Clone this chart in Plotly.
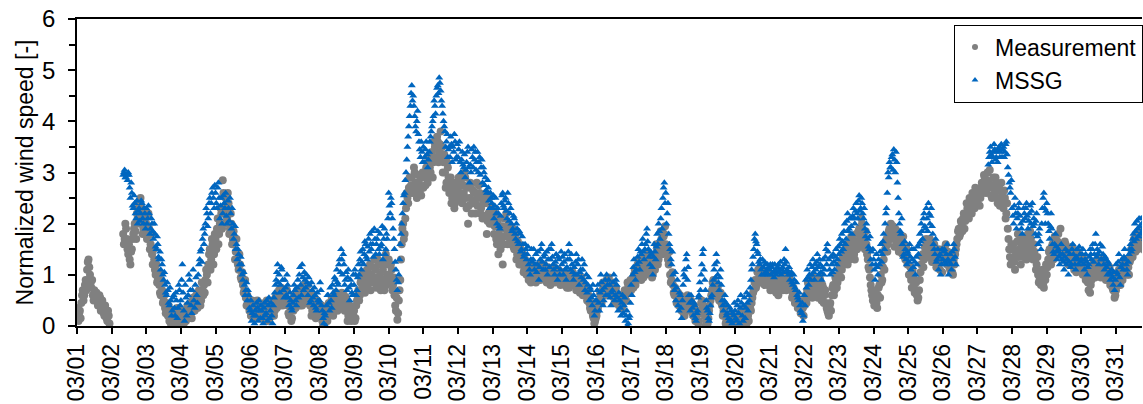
import pandas as pd
import plotly.graph_objects as go

# Normalized wind speed in March, sampled every 30 minutes.
# Each row is one day: *_HOUR holds the hh:00 samples, *_HALF the hh:30 samples.
# None marks samples without data.
N = None

MEAS_HOUR_01_10 = [
    [0.2, 0.1, 0.3, 0.45, 0.7, 0.6, 0.9, 1.1, 1.3, 1.0, 0.75, 0.6, 0.7, 0.5, 0.6, 0.45, 0.55, 0.35, 0.4, 0.2, 0.3, 0.1, 0.2, N],
    [N, N, N, N, N, N, N, N, 1.8, 1.7, 1.9, 1.5, 1.6, 1.2, 1.5, 1.8, 2.0, 1.7, 2.1, 2.4, 2.5, 2.2, 1.9, 2.1],
    [2.0, 1.8, 1.9, 1.6, 1.4, 1.5, 1.1, 1.2, 0.9, 0.8, 0.6, 0.7, 0.5, 0.35, 0.45, 0.2, 0.1, 0.05, 0.15, 0.05, 0.2, 0.1, 0.3, 0.15],
    [0.1, 0.2, 0.05, 0.3, 0.15, 0.35, 0.25, 0.4, 0.3, 0.5, 0.4, 0.55, 0.45, 0.6, 0.5, 0.7, 0.8, 0.9, 1.0, 1.2, 1.5, 1.3, 1.6, 1.4],
    [1.7, 1.9, 1.6, 2.0, 2.2, 2.85, 2.3, 2.5, 2.1, 2.4, 1.9, 2.0, 1.7, 1.6, 1.45, 1.3, 1.1, 1.2, 0.9, 0.8, 0.7, 0.55, 0.6, 0.45],
    [0.4, 0.3, 0.45, 0.2, 0.35, 0.5, 0.25, 0.4, 0.3, 0.15, 0.45, 0.3, 0.1, 0.35, 0.2, 0.4, 0.5, 0.3, 0.6, 0.45, 0.7, 0.55, 0.65, 0.5],
    [0.6, 0.5, 0.4, 0.2, 0.35, 0.15, 0.3, 0.5, 0.45, 0.6, 0.7, 0.55, 0.4, 0.6, 0.7, 0.5, 0.8, 0.65, 0.55, 0.3, 0.5, 0.45, 0.25, 0.4],
    [0.35, 0.2, 0.1, 0.05, 0.15, 0.3, 0.2, 0.4, 0.35, 0.45, 0.3, 0.5, 0.6, 0.4, 0.55, 0.5, 0.35, 0.6, 0.45, 0.3, 0.2, 0.4, 0.1, 0.25],
    [0.3, 0.15, 0.5, 0.7, 0.6, 0.9, 0.8, 1.0, 0.75, 1.1, 0.9, 1.2, 1.0, 0.85, 1.3, 1.1, 0.9, 1.2, 1.0, 0.8, 1.1, 0.7, 1.4, 1.0],
    [1.3, 0.9, 1.1, 0.8, 0.6, 0.3, 0.12, 0.5, 0.9, 1.6, 2.0, 1.8, 2.3, 2.5, 2.7, 2.6, 2.9, 2.7, 3.0, 2.75, 2.6, 2.8, 2.9, 2.7],
]
MEAS_HALF_01_10 = [
    [0.35, 0.25, 0.15, 0.6, 0.5, 0.8, 0.7, 1.25, 1.15, 0.85, 0.9, 0.5, 0.55, 0.65, 0.4, 0.6, 0.3, 0.5, 0.25, 0.4, 0.15, 0.3, 0.05, N],
    [N, N, N, N, N, N, N, N, 1.6, 2.0, 1.7, 1.4, 1.3, 1.45, 1.7, 1.9, 1.85, 2.2, 2.3, 2.0, 2.3, 1.8, 2.2, 1.95],
    [1.7, 2.2, 1.5, 1.8, 1.2, 1.3, 1.0, 0.85, 1.05, 0.65, 0.9, 0.45, 0.6, 0.25, 0.3, 0.4, 0.2, 0.3, 0.0, 0.25, 0.05, 0.35, 0.1, 0.05],
    [0.3, 0.0, 0.25, 0.1, 0.4, 0.2, 0.45, 0.15, 0.55, 0.3, 0.6, 0.35, 0.7, 0.4, 0.85, 0.6, 0.65, 1.1, 0.85, 1.4, 1.1, 1.7, 1.2, 1.8],
    [1.5, 2.1, 1.8, 2.3, 1.9, 2.6, 2.0, 2.2, 2.6, 1.8, 2.2, 1.6, 1.85, 1.3, 1.7, 1.2, 1.4, 0.95, 1.05, 0.65, 0.9, 0.4, 0.5, 0.3],
    [0.2, 0.5, 0.15, 0.4, 0.25, 0.3, 0.45, 0.2, 0.4, 0.35, 0.2, 0.5, 0.3, 0.15, 0.45, 0.3, 0.2, 0.55, 0.35, 0.65, 0.4, 0.75, 0.4, 0.7],
    [0.45, 0.7, 0.25, 0.45, 0.1, 0.4, 0.6, 0.35, 0.7, 0.5, 0.4, 0.75, 0.5, 0.8, 0.45, 0.65, 0.55, 0.4, 0.2, 0.6, 0.35, 0.15, 0.5, 0.3],
    [0.25, 0.4, 0.0, 0.2, 0.3, 0.1, 0.45, 0.25, 0.55, 0.2, 0.45, 0.65, 0.3, 0.5, 0.4, 0.65, 0.45, 0.3, 0.55, 0.1, 0.35, 0.15, 0.3, 0.2],
    [0.1, 0.4, 0.6, 0.5, 0.85, 0.7, 1.05, 0.65, 0.95, 0.8, 1.15, 0.7, 0.9, 1.15, 0.95, 0.75, 1.3, 0.85, 0.7, 1.2, 0.9, 1.25, 0.8, 1.2],
    [1.0, 1.2, 0.7, 0.95, 0.4, 0.55, 0.25, 0.7, 1.3, 1.9, 1.7, 2.1, 2.6, 2.4, 2.9, 2.75, 2.6, 3.1, 2.8, 2.5, 2.95, 2.65, 2.55, 3.0],
]

MEAS_HOUR_11_20 = [
    [2.7, 2.9, 3.1, 2.8, 3.3, 3.0, 3.4, 3.2, 3.5, 3.3, 3.6, 3.4, 3.8, 3.5, 3.2, 3.0, 2.8, 3.1, 2.6, 2.9, 2.5, 2.7, 2.4, 2.8],
    [2.7, 2.5, 2.8, 2.4, 2.6, 2.9, 2.3, 2.0, 2.5, 2.7, 2.4, 2.6, 2.2, 2.8, 2.5, 2.6, 2.3, 2.1, 2.5, 2.4, 1.8, 2.2, 2.0, 2.3],
    [2.0, 1.8, 2.2, 1.6, 1.4, 1.9, 1.7, 1.2, 2.1, 1.9, 1.8, 2.0, 1.7, 1.6, 1.9, 1.5, 1.7, 1.4, 1.6, 1.3, 1.2, 1.4, 1.1, 1.25],
    [1.1, 0.9, 1.0, 1.2, 0.95, 1.05, 0.85, 1.0, 1.1, 0.9, 1.15, 0.95, 1.0, 1.05, 0.9, 1.1, 0.8, 1.0, 0.95, 0.85, 1.1, 0.9, 1.0, 0.8],
    [0.9, 1.0, 0.8, 0.95, 0.85, 0.75, 1.0, 0.9, 0.8, 0.95, 0.7, 0.85, 0.9, 0.75, 0.8, 0.7, 0.6, 0.65, 0.5, 0.45, 0.3, 0.35, 0.15, 0.1],
    [0.2, 0.35, 0.5, 0.6, 0.7, 0.8, 0.65, 0.9, 0.75, 0.6, 0.8, 0.7, 0.55, 0.65, 0.5, 0.6, 0.45, 0.55, 0.4, 0.5, 0.6, 0.7, 0.8, 0.75],
    [0.7, 0.9, 1.0, 0.8, 1.1, 1.3, 1.2, 0.9, 1.1, 1.25, 1.0, 1.2, 1.4, 1.1, 1.3, 1.0, 1.2, 1.4, 1.5, 1.3, 1.6, 1.7, 1.5, 1.8],
    [1.6, 1.4, 1.2, 1.0, 0.9, 0.8, 0.6, 0.7, 0.5, 0.4, 0.6, 0.3, 0.5, 0.2, 0.4, 0.6, 0.5, 0.3, 0.45, 0.2, 0.35, 0.15, 0.3, 0.1],
    [0.3, 0.5, 0.4, 0.2, 0.1, 0.05, 0.3, 0.5, 0.7, 0.9, 0.8, 0.6, 0.75, 0.5, 0.65, 0.4, 0.3, 0.2, 0.1, 0.05, 0.15, 0.0, 0.1, 0.05],
    [0.1, 0.0, 0.2, 0.05, 0.15, 0.3, 0.1, 0.25, 0.05, 0.2, 0.4, 0.3, 0.55, 0.7, 0.9, 0.8, 1.1, 0.95, 1.0, 0.85, 1.05, 0.9, 1.0, 0.8],
]
MEAS_HALF_11_20 = [
    [3.0, 2.75, 2.9, 3.2, 3.1, 3.35, 2.9, 3.6, 3.25, 3.7, 3.2, 3.55, 3.3, 3.0, 3.35, 2.7, 3.2, 2.9, 2.7, 2.4, 2.8, 2.3, 2.6, 2.5],
    [2.9, 2.6, 2.45, 2.75, 3.0, 2.5, 2.7, 2.35, 2.8, 2.2, 2.65, 2.45, 2.6, 2.35, 2.75, 2.2, 2.5, 2.4, 2.15, 2.6, 2.05, 2.5, 2.25, 2.1],
    [2.3, 1.95, 1.7, 2.05, 1.8, 1.5, 1.95, 1.6, 1.75, 2.2, 1.6, 1.85, 1.95, 1.8, 1.55, 1.8, 1.3, 1.65, 1.2, 1.5, 1.35, 1.05, 1.3, 1.0],
    [1.25, 1.05, 0.85, 1.1, 1.15, 0.9, 1.1, 0.9, 1.2, 1.05, 1.0, 1.2, 0.9, 0.85, 1.15, 0.95, 1.05, 0.9, 1.15, 1.0, 0.95, 1.1, 0.85, 1.05],
    [1.05, 0.85, 0.95, 0.75, 1.0, 0.9, 0.8, 1.05, 0.95, 0.8, 0.9, 0.75, 0.65, 0.95, 0.6, 0.8, 0.7, 0.5, 0.6, 0.35, 0.45, 0.2, 0.05, 0.15],
    [0.3, 0.45, 0.65, 0.45, 0.85, 0.6, 0.8, 0.7, 0.95, 0.7, 0.6, 0.85, 0.45, 0.75, 0.6, 0.4, 0.6, 0.35, 0.55, 0.7, 0.5, 0.85, 0.65, 0.9],
    [0.85, 0.75, 1.1, 0.95, 1.2, 1.0, 1.05, 1.3, 0.95, 1.15, 1.35, 1.05, 1.25, 1.35, 0.95, 1.3, 1.1, 1.6, 1.2, 1.45, 1.85, 1.4, 1.75, 1.95],
    [1.5, 1.3, 1.45, 0.85, 1.05, 0.65, 0.75, 0.45, 0.65, 0.55, 0.35, 0.45, 0.25, 0.35, 0.55, 0.45, 0.35, 0.5, 0.25, 0.4, 0.1, 0.25, 0.05, 0.25],
    [0.45, 0.35, 0.25, 0.0, 0.2, 0.15, 0.4, 0.6, 0.85, 0.65, 0.7, 0.8, 0.55, 0.6, 0.45, 0.2, 0.35, 0.05, 0.2, 0.1, 0.05, 0.2, 0.0, 0.15],
    [0.05, 0.15, 0.1, 0.25, 0.0, 0.2, 0.05, 0.15, 0.3, 0.1, 0.35, 0.45, 0.65, 0.85, 0.75, 1.05, 0.85, 1.1, 0.9, 1.0, 0.8, 0.95, 0.85, 0.95],
]

MEAS_HOUR_21_31 = [
    [0.9, 0.8, 0.95, 0.7, 0.85, 0.75, 0.6, 0.8, 0.9, 0.7, 0.85, 0.95, 0.8, 0.75, 0.9, 0.7, 0.6, 0.65, 0.5, 0.55, 0.4, 0.45, 0.3, 0.35],
    [0.4, 0.6, 0.7, 0.8, 0.65, 0.9, 0.75, 0.85, 0.6, 0.8, 0.7, 0.9, 0.5, 0.75, 0.6, 0.45, 0.3, 0.2, 0.45, 0.6, 0.8, 0.7, 0.9, 0.85],
    [1.0, 1.2, 1.1, 1.3, 1.5, 1.4, 1.2, 1.6, 1.4, 1.7, 1.5, 1.3, 1.8, 1.6, 1.9, 1.7, 2.0, 1.8, 1.5, 1.6, 1.3, 1.1, 0.8, 0.6],
    [0.7, 0.5, 0.45, 0.6, 0.8, 1.0, 0.9, 1.3, 1.5, 1.7, 1.6, 1.9, 2.0, 1.8, 1.7, 1.9, 1.6, 1.8, 1.5, 1.7, 1.4, 1.6, 1.3, 1.5],
    [1.2, 1.0, 0.9, 1.1, 0.8, 0.7, 0.6, 0.55, 0.9, 1.2, 1.4, 1.3, 1.5, 1.6, 1.4, 1.7, 1.5, 1.3, 1.6, 1.4, 1.2, 1.5, 1.1, 1.3],
    [1.5, 1.3, 1.6, 1.2, 1.4, 1.1, 1.3, 1.0, 1.2, 1.5, 1.7, 1.9, 1.8, 2.0, 2.1, 1.9, 2.2, 2.3, 2.1, 2.4, 2.2, 2.5, 2.3, 2.6],
    [2.4, 2.6, 2.5, 2.8, 2.7, 2.9, 2.6, 3.0, 2.8, 2.7, 2.5, 2.9, 2.6, 2.8, 2.4, 2.7, 2.5, 2.6, 2.3, 2.5, 2.2, 1.9, 1.5, 1.2],
    [1.3, 1.6, 1.1, 1.4, 1.8, 1.5, 1.2, 1.7, 1.4, 1.6, 1.3, 1.8, 1.5, 1.7, 1.4, 1.6, 1.3, 1.2, 1.0, 0.9, 0.8, 1.1, 0.75, 0.9],
    [1.0, 1.3, 1.5, 1.2, 1.6, 1.4, 1.7, 1.5, 1.8, 1.6, 1.4, 1.5, 1.3, 1.6, 1.4, 1.2, 1.5, 1.3, 1.4, 1.1, 1.3, 1.2, 1.4, 1.1],
    [1.2, 1.0, 1.3, 0.9, 1.1, 0.7, 0.65, 0.9, 1.1, 1.2, 1.0, 1.3, 1.1, 1.2, 1.0, 1.3, 1.1, 0.9, 1.2, 1.0, 0.8, 1.0, 0.7, 0.55],
    [0.7, 0.9, 1.1, 0.8, 1.0, 1.2, 1.1, 1.3, 1.2, 1.0, 1.3, 1.4, 1.5, 1.6, 1.7, 1.5, 1.8, 1.6, 1.7, 1.5, 1.6, 1.4, 1.5, 1.3],
]
MEAS_HALF_21_31 = [
    [0.7, 1.0, 0.85, 0.8, 0.65, 0.9, 0.7, 0.95, 0.75, 0.9, 1.0, 0.7, 0.85, 0.95, 0.8, 0.55, 0.75, 0.45, 0.65, 0.35, 0.5, 0.25, 0.45, 0.2],
    [0.5, 0.45, 0.85, 0.6, 0.75, 0.55, 0.95, 0.65, 0.85, 0.55, 0.95, 0.65, 0.8, 0.45, 0.7, 0.35, 0.25, 0.4, 0.3, 0.75, 0.6, 0.95, 0.75, 1.0],
    [1.15, 0.95, 1.35, 1.2, 1.25, 1.6, 1.45, 1.3, 1.75, 1.55, 1.4, 1.65, 1.5, 1.85, 1.55, 2.1, 1.65, 1.7, 1.85, 1.4, 1.15, 0.95, 0.7, 0.5],
    [0.4, 0.65, 0.35, 0.75, 0.55, 0.85, 1.15, 1.1, 1.6, 1.45, 1.85, 1.7, 1.75, 1.95, 1.55, 1.75, 1.85, 1.45, 1.65, 1.55, 1.75, 1.35, 1.55, 1.2],
    [1.0, 1.15, 0.75, 0.95, 0.65, 0.85, 0.5, 0.7, 1.05, 1.35, 1.15, 1.55, 1.7, 1.35, 1.6, 1.45, 1.25, 1.5, 1.3, 1.15, 1.4, 1.25, 1.45, 1.05],
    [1.35, 1.5, 1.25, 1.45, 1.15, 1.35, 1.05, 1.3, 1.4, 1.6, 1.85, 1.75, 2.05, 1.85, 2.2, 2.05, 2.4, 2.15, 2.5, 2.3, 2.6, 2.4, 2.7, 2.45],
    [2.55, 2.35, 2.7, 2.6, 2.95, 2.75, 2.85, 2.7, 3.05, 2.55, 2.75, 2.7, 2.9, 2.5, 2.65, 2.35, 2.8, 2.4, 2.65, 2.1, 2.4, 1.7, 1.35, 1.6],
    [1.5, 1.25, 1.45, 1.65, 1.35, 1.7, 1.55, 1.35, 1.75, 1.45, 1.65, 1.4, 1.85, 1.55, 1.3, 1.45, 1.1, 1.35, 0.85, 1.05, 0.95, 0.8, 1.0, 1.2],
    [1.15, 1.45, 1.35, 1.55, 1.3, 1.75, 1.45, 1.65, 1.5, 1.9, 1.55, 1.35, 1.65, 1.45, 1.25, 1.4, 1.2, 1.55, 1.25, 1.35, 1.05, 1.45, 1.2, 1.3],
    [1.05, 1.25, 1.1, 1.15, 0.85, 0.95, 0.8, 1.05, 1.25, 0.95, 1.15, 1.05, 1.25, 0.95, 1.15, 1.05, 1.25, 1.1, 0.95, 1.15, 0.9, 0.75, 0.85, 0.6],
    [0.8, 1.0, 0.95, 1.15, 0.9, 1.05, 1.3, 1.0, 1.15, 1.25, 1.5, 1.35, 1.7, 1.45, 1.6, 1.75, 1.55, 1.85, 1.6, 1.75, 1.45, 1.65, 1.4, 1.55],
]

MSSG_HOUR_01_10 = [
    [N] * 24,
    [N, N, N, N, N, N, N, N, 2.95, 3.05, 2.9, 2.85, 2.95, 2.5, 2.6, 2.3, 2.4, 2.1, 2.0, 2.3, 2.2, 2.4, 2.0, 2.2],
    [2.3, 2.1, 2.2, 1.9, 2.0, 1.7, 1.8, 1.5, 1.6, 1.3, 1.1, 1.2, 0.9, 0.8, 0.6, 0.7, 0.4, 0.5, 0.3, 0.6, 0.2, 0.5, 0.35, 0.7],
    [0.5, 1.2, 0.3, 0.8, 0.2, 0.6, 0.9, 0.4, 0.7, 0.5, 0.8, 0.6, 1.0, 1.3, 1.5, 1.7, 1.6, 2.0, 2.2, 2.1, 2.5, 2.4, 2.7, 2.3],
    [2.6, 2.3, 2.8, 2.1, 2.5, 2.2, 2.4, 2.6, 2.0, 2.3, 2.5, 1.9, 2.0, 1.8, 1.5, 1.3, 1.4, 1.1, 1.2, 0.9, 0.8, 0.7, 0.5, 0.6],
    [0.3, 0.1, 0.4, 0.05, 0.2, 0.35, 0.5, 0.15, 0.3, 0.05, 0.45, 0.25, 0.1, 0.55, 0.3, 0.2, 0.4, 0.65, 0.9, 1.2, 1.0, 0.8, 1.1, 0.7],
    [0.9, 0.6, 0.8, 0.4, 0.5, 0.3, 0.6, 0.7, 0.4, 0.9, 1.0, 0.8, 1.2, 0.7, 0.9, 1.0, 0.6, 0.8, 0.5, 0.7, 0.4, 0.6, 0.3, 0.5],
    [0.5, 0.7, 0.3, 0.05, 0.2, 0.4, 0.6, 0.3, 0.5, 0.8, 0.6, 0.9, 1.1, 0.8, 1.3, 1.5, 1.0, 1.2, 0.9, 0.7, 1.1, 0.5, 0.8, 0.6],
    [0.8, 1.0, 0.7, 1.2, 1.3, 1.1, 1.5, 1.4, 1.6, 1.3, 1.7, 1.8, 1.5, 1.6, 1.9, 1.4, 1.7, 1.5, 1.8, 1.6, 1.3, 1.9, 1.5, 1.7],
    [2.6, 2.2, 2.4, 1.9, 1.5, 1.1, 0.7, 1.0, 1.6, 2.0, 2.4, 2.6, 3.0, 3.5, 3.9, 4.3, 4.7, 4.5, 4.1, 3.8, 4.2, 3.6, 3.3, 3.4],
]
MSSG_HALF_01_10 = [
    [N] * 24,
    [N, N, N, N, N, N, N, N, 3.0, 2.9, 2.95, 3.0, 2.7, 2.8, 2.35, 2.55, 2.2, 2.45, 2.25, 2.05, 2.45, 2.1, 2.3, 1.9],
    [2.0, 2.35, 1.8, 2.1, 1.85, 2.0, 1.55, 1.75, 1.35, 1.45, 1.3, 1.0, 1.05, 0.65, 0.85, 0.45, 0.75, 0.2, 0.55, 0.35, 0.65, 0.15, 0.8, 0.4],
    [0.9, 0.65, 0.1, 0.55, 0.45, 1.0, 0.7, 0.25, 1.1, 0.35, 0.95, 0.45, 1.2, 1.45, 1.25, 1.9, 1.8, 2.3, 1.95, 2.4, 2.2, 2.6, 2.5, 2.75],
    [2.4, 2.7, 2.5, 2.35, 2.0, 2.55, 2.3, 2.15, 2.45, 2.05, 2.2, 2.3, 1.7, 1.95, 1.6, 1.5, 1.2, 1.35, 1.0, 1.05, 0.6, 0.85, 0.7, 0.35],
    [0.5, 0.25, 0.2, 0.3, 0.45, 0.1, 0.3, 0.4, 0.15, 0.35, 0.2, 0.5, 0.4, 0.15, 0.45, 0.05, 0.55, 0.8, 1.05, 0.85, 0.65, 1.15, 0.9, 0.55],
    [0.75, 1.0, 0.55, 0.65, 0.35, 0.45, 0.8, 0.5, 0.75, 0.55, 1.15, 0.6, 0.95, 1.05, 0.75, 0.85, 0.95, 0.45, 0.85, 0.55, 0.75, 0.35, 0.65, 0.45],
    [0.85, 0.4, 0.15, 0.25, 0.0, 0.6, 0.45, 0.75, 0.35, 0.65, 0.95, 0.7, 0.85, 1.2, 1.05, 1.3, 1.4, 0.8, 1.05, 0.95, 0.75, 0.9, 0.65, 1.0],
    [1.1, 0.6, 0.95, 1.0, 1.45, 1.25, 1.2, 1.65, 1.35, 1.55, 1.45, 1.6, 1.85, 1.35, 1.7, 1.6, 1.85, 1.4, 1.55, 1.95, 1.7, 1.4, 1.8, 2.1],
    [2.35, 2.5, 2.1, 1.7, 1.25, 0.9, 0.85, 1.3, 1.8, 2.2, 2.55, 2.85, 3.25, 3.7, 4.1, 4.55, 4.4, 4.3, 3.9, 4.0, 3.75, 3.45, 3.6, 3.2],
]

MSSG_HOUR_11_20 = [
    [3.5, 3.3, 3.6, 3.1, 3.4, 3.7, 3.9, 4.1, 4.3, 4.5, 4.7, 4.85, 4.6, 4.3, 4.0, 3.8, 3.6, 3.3, 3.5, 3.7, 3.2, 3.4, 3.6, 3.3],
    [3.3, 3.6, 3.0, 3.4, 3.1, 2.9, 3.2, 3.5, 2.8, 3.0, 3.3, 3.5, 3.4, 3.2, 3.0, 3.3, 3.1, 2.8, 3.0, 2.9, 2.6, 2.7, 2.3, 2.5],
    [2.3, 2.1, 2.5, 2.0, 2.2, 1.9, 2.4, 2.6, 2.3, 2.5, 2.1, 2.4, 2.2, 2.0, 1.9, 2.1, 1.7, 1.9, 1.6, 1.8, 1.5, 1.6, 1.4, 1.5],
    [1.4, 1.2, 1.0, 1.5, 1.3, 1.1, 1.4, 1.2, 0.9, 1.3, 1.6, 1.1, 1.4, 1.2, 1.0, 1.5, 1.3, 1.6, 1.2, 1.0, 1.4, 0.9, 1.3, 1.1],
    [1.2, 1.0, 1.4, 0.9, 1.3, 1.6, 1.1, 1.2, 0.9, 1.0, 1.4, 1.2, 0.8, 1.1, 1.3, 0.9, 0.7, 1.0, 0.8, 0.5, 0.7, 0.4, 0.6, 0.3],
    [0.5, 0.8, 0.3, 1.0, 0.7, 0.5, 0.9, 1.0, 0.6, 0.8, 0.4, 0.7, 1.0, 0.6, 0.8, 0.3, 0.5, 0.2, 0.6, 0.4, 0.1, 0.3, 0.05, 0.2],
    [0.8, 1.0, 1.3, 0.9, 1.2, 1.5, 1.1, 1.4, 1.7, 1.3, 1.6, 1.9, 1.5, 1.2, 1.4, 1.0, 1.6, 1.3, 1.8, 2.0, 1.7, 2.3, 2.5, 2.8],
    [2.6, 2.2, 1.8, 1.5, 1.2, 1.0, 0.7, 0.5, 0.9, 0.3, 0.6, 0.15, 0.8, 1.1, 1.3, 0.9, 0.6, 0.3, 0.5, 0.2, 0.4, 0.1, 0.3, 0.6],
    [0.7, 1.2, 1.5, 0.9, 0.5, 0.3, 0.1, 0.4, 0.6, 0.9, 1.2, 1.4, 1.0, 0.7, 1.1, 0.5, 0.3, 0.6, 0.2, 0.4, 0.1, 0.3, 0.05, 0.2],
    [0.3, 0.1, 0.5, 0.05, 0.6, 0.2, 0.4, 0.15, 0.65, 0.3, 0.5, 0.9, 1.2, 1.5, 1.8, 1.6, 1.4, 1.2, 1.1, 1.3, 1.0, 1.2, 1.1, 1.0],
]
MSSG_HALF_11_20 = [
    [3.2, 3.45, 3.35, 3.25, 3.6, 3.8, 4.0, 4.4, 4.15, 4.65, 4.55, 4.75, 4.4, 4.15, 3.9, 3.5, 3.75, 3.45, 3.3, 3.55, 3.5, 3.75, 3.25, 3.55],
    [3.45, 3.2, 3.25, 3.15, 3.35, 3.05, 3.4, 3.1, 3.15, 3.45, 3.1, 3.25, 3.05, 3.4, 3.2, 2.95, 3.25, 3.1, 2.75, 2.65, 2.85, 2.45, 2.6, 2.4],
    [2.55, 2.35, 2.2, 2.3, 1.95, 2.15, 2.55, 2.35, 2.45, 2.25, 2.6, 2.05, 2.3, 1.85, 2.15, 1.8, 2.0, 1.65, 1.85, 1.45, 1.75, 1.35, 1.6, 1.3],
    [1.55, 1.1, 1.3, 1.25, 1.5, 1.2, 1.05, 1.45, 1.15, 1.5, 1.25, 1.35, 1.1, 1.45, 1.3, 1.15, 1.5, 1.35, 1.1, 1.25, 1.15, 1.35, 1.0, 1.45],
    [1.35, 1.25, 1.1, 1.15, 1.45, 1.3, 1.4, 1.05, 1.15, 1.25, 1.0, 1.3, 1.05, 0.95, 1.1, 1.2, 0.85, 0.65, 0.95, 0.75, 0.55, 0.8, 0.2, 0.5],
    [0.7, 0.45, 0.65, 0.85, 0.4, 0.75, 0.6, 0.8, 0.9, 0.55, 0.65, 0.85, 0.5, 0.9, 0.55, 0.65, 0.35, 0.45, 0.25, 0.55, 0.2, 0.0, 0.15, 0.45],
    [0.6, 1.15, 1.05, 1.1, 1.35, 1.25, 1.45, 1.6, 1.45, 1.5, 1.8, 1.65, 1.35, 1.45, 1.15, 1.35, 1.45, 1.55, 1.6, 1.85, 2.1, 1.9, 2.7, 2.4],
    [2.0, 2.4, 1.6, 1.3, 1.45, 0.8, 1.05, 0.75, 0.4, 0.65, 0.35, 0.5, 1.0, 0.95, 1.4, 1.15, 0.45, 0.6, 0.35, 0.45, 0.15, 0.25, 0.55, 0.85],
    [1.0, 1.4, 1.1, 0.7, 0.35, 0.15, 0.25, 0.55, 0.8, 1.1, 0.95, 1.25, 0.85, 0.95, 0.8, 0.4, 0.5, 0.45, 0.25, 0.15, 0.35, 0.1, 0.25, 0.45],
    [0.15, 0.4, 0.25, 0.35, 0.45, 0.1, 0.55, 0.35, 0.45, 0.6, 0.75, 1.1, 1.35, 1.7, 1.65, 1.45, 1.25, 1.3, 1.0, 1.15, 1.25, 1.05, 1.2, 1.15],
]

MSSG_HOUR_21_31 = [
    [1.1, 1.0, 1.2, 0.95, 1.1, 1.05, 1.2, 1.1, 1.0, 1.15, 1.3, 1.5, 1.1, 1.0, 0.9, 1.05, 0.8, 0.9, 0.7, 0.6, 0.5, 0.4, 0.25, 0.1],
    [0.6, 0.9, 1.1, 0.8, 1.2, 1.0, 1.3, 0.9, 1.1, 1.4, 1.0, 1.2, 0.9, 1.3, 1.1, 1.5, 1.6, 1.3, 1.0, 1.2, 1.4, 1.1, 1.5, 1.3],
    [1.4, 1.6, 1.8, 1.5, 2.0, 1.7, 2.2, 1.9, 2.1, 1.8, 2.3, 2.0, 2.4, 2.1, 2.55, 2.3, 2.4, 2.1, 1.9, 2.0, 1.7, 1.5, 1.3, 1.2],
    [1.3, 0.9, 1.4, 1.0, 1.2, 1.6, 1.4, 1.8, 2.0, 2.3, 3.0, 3.2, 3.1, 3.35, 3.45, 3.0, 3.2, 2.5, 2.0, 1.8, 1.6, 1.4, 1.5, 1.2],
    [1.4, 1.6, 1.1, 1.3, 1.5, 1.0, 1.2, 1.4, 1.8, 2.0, 1.7, 2.2, 1.9, 2.1, 2.4, 2.0, 2.3, 1.8, 1.5, 1.7, 1.3, 1.1, 1.4, 1.2],
    [1.3, 1.5, 1.2, 1.6, 1.0, 1.4, 1.1, 1.3, 1.5, 1.2, N, N, N, N, N, N, N, N, N, N, N, N, N, N],
    [N, N, N, N, N, N, N, N, 3.3, 3.5, 3.2, 3.4, 3.45, 3.3, 3.2, 3.5, 3.4, 3.3, 3.5, 3.4, 3.6, 3.1, 2.8, 2.6],
    [2.3, 2.0, 2.5, 1.9, 2.2, 2.4, 2.0, 1.8, 2.3, 2.1, 2.4, 1.9, 2.2, 2.0, 2.4, 2.1, 1.8, 2.2, 1.6, 1.9, 1.5, 2.3, 2.6, 2.0],
    [2.4, 2.0, 1.7, 2.2, 1.6, 1.4, 1.8, 1.3, 1.5, 1.2, 1.6, 1.4, 1.1, 1.5, 1.3, 1.0, 1.4, 1.2, 1.6, 1.3, 1.1, 1.5, 1.2, 1.4],
    [1.3, 1.5, 1.1, 1.4, 1.0, 1.2, 1.5, 1.3, 1.6, 1.4, 1.8, 1.5, 1.2, 1.6, 1.3, 1.4, 1.1, 1.3, 1.0, 1.2, 0.9, 1.1, 0.8, 0.7],
    [1.2, 1.0, 1.4, 0.8, 1.3, 1.1, 1.5, 1.2, 1.0, 1.4, 1.6, 1.5, 1.8, 2.0, 1.7, 1.9, 2.1, 1.8, 2.0, 1.9, 1.7, 2.0, 1.8, 1.9],
]
MSSG_HALF_21_31 = [
    [1.2, 1.15, 1.05, 1.2, 1.0, 1.15, 1.05, 1.25, 1.1, 1.05, 1.2, 1.25, 1.05, 1.15, 1.0, 0.85, 1.0, 0.75, 0.85, 0.55, 0.65, 0.3, 0.45, 0.2],
    [0.4, 0.75, 0.95, 1.0, 0.9, 1.15, 1.05, 1.2, 1.25, 1.15, 1.3, 1.05, 1.15, 1.0, 1.35, 1.2, 1.45, 1.1, 1.35, 1.05, 1.25, 1.35, 1.2, 1.55],
    [1.7, 1.45, 1.65, 1.85, 1.6, 2.05, 1.85, 2.1, 1.95, 2.15, 2.1, 2.25, 2.2, 2.45, 2.25, 2.5, 2.2, 2.3, 1.75, 1.85, 1.55, 1.75, 1.45, 1.5],
    [1.1, 1.2, 1.15, 1.3, 1.45, 1.25, 1.65, 1.5, 2.2, 2.6, 2.9, 3.1, 3.3, 3.05, 3.25, 3.4, 2.8, 2.2, 1.85, 2.1, 1.35, 1.65, 1.3, 1.45],
    [1.25, 1.35, 1.5, 1.15, 1.25, 1.35, 1.55, 1.6, 1.65, 1.85, 2.1, 1.95, 2.3, 1.85, 2.2, 2.15, 1.95, 1.6, 1.4, 1.25, 1.5, 1.35, 1.0, 1.5],
    [1.45, 1.25, 1.4, 1.3, 1.25, 1.2, 1.45, 1.6, 1.35, N, N, N, N, N, N, N, N, N, N, N, N, N, N, N],
    [N, N, N, N, N, N, N, 3.15, 3.4, 3.35, 3.3, 3.55, 3.25, 3.4, 3.45, 3.3, 3.55, 3.45, 3.3, 3.55, 3.35, 2.95, 2.7, 2.85],
    [2.15, 2.35, 2.2, 2.1, 2.3, 2.15, 1.9, 2.05, 2.2, 2.3, 2.15, 2.05, 2.35, 2.25, 1.95, 2.0, 2.05, 1.75, 1.8, 1.65, 2.0, 2.5, 2.3, 2.25],
    [2.2, 1.85, 1.95, 1.9, 1.45, 1.6, 1.55, 1.45, 1.35, 1.4, 1.3, 1.25, 1.35, 1.2, 1.45, 1.25, 1.15, 1.5, 1.4, 1.2, 1.35, 1.3, 1.55, 1.25],
    [1.4, 1.2, 1.3, 1.25, 1.15, 1.35, 1.4, 1.5, 1.25, 1.6, 1.35, 1.4, 1.45, 1.3, 1.55, 1.2, 1.35, 1.15, 1.25, 1.05, 1.0, 0.95, 1.05, 0.9],
    [1.05, 1.25, 0.95, 1.15, 1.2, 1.35, 1.3, 1.1, 1.25, 1.5, 1.45, 1.7, 1.65, 1.85, 2.05, 1.75, 1.95, 2.1, 1.85, 1.75, 1.95, 1.85, 2.05, 1.7],
]


def interleave(hour_blocks, half_blocks):
    """Merge hh:00 and hh:30 samples into one 30-minute series."""
    out = []
    for hours, halves in zip(hour_blocks, half_blocks):
        for day_h, day_m in zip(hours, halves):
            for a, b in zip(day_h, day_m):
                out.extend([a, b])
    return out


measurement = interleave([MEAS_HOUR_01_10, MEAS_HOUR_11_20, MEAS_HOUR_21_31],
                         [MEAS_HALF_01_10, MEAS_HALF_11_20, MEAS_HALF_21_31])
mssg = interleave([MSSG_HOUR_01_10, MSSG_HOUR_11_20, MSSG_HOUR_21_31],
                  [MSSG_HALF_01_10, MSSG_HALF_11_20, MSSG_HALF_21_31])
times = pd.date_range("2015-03-01 00:00", periods=len(measurement), freq="30min")

FONT = "Liberation Sans, Arial, sans-serif"
BLUE = "#0066BF"
GREY = "#808080"

fig = go.Figure()
fig.add_trace(go.Scatter(
    x=times, y=measurement, mode="markers", name="Measurement", showlegend=False,
    marker=dict(symbol="circle", size=8, color=GREY),
))
fig.add_trace(go.Scatter(
    x=times, y=mssg, mode="markers", name="MSSG", showlegend=False,
    marker=dict(symbol="triangle-up", size=7, color=BLUE),
))
# legend entries with smaller symbols
fig.add_trace(go.Scatter(x=[None], y=[None], mode="markers", name="Measurement",
                         marker=dict(symbol="circle", size=6, color=GREY)))
fig.add_trace(go.Scatter(x=[None], y=[None], mode="markers", name="MSSG",
                         marker=dict(symbol="triangle-up", size=6, color=BLUE)))

x_start = pd.Timestamp("2015-03-01 00:00")
x_end = pd.Timestamp("2015-03-31 18:00")

axis_common = dict(showgrid=False, zeroline=False, linecolor="black", linewidth=1.5,
                   tickcolor="black", tickwidth=1.5, automargin=False)

fig.update_layout(
    width=1143, height=404,
    margin=dict(l=77, r=0, t=19, b=78),
    paper_bgcolor="white", plot_bgcolor="white",
    font=dict(family=FONT, size=23, color="black"),
    showlegend=True,
    legend=dict(
        x=0.8236, y=0.982, xanchor="left", yanchor="top",
        bordercolor="black", borderwidth=1, bgcolor="white",
        font=dict(family=FONT, size=23), itemsizing="trace",
        tracegroupgap=0, itemwidth=30,
        entrywidth=200, entrywidthmode="pixels",
    ),
    xaxis=dict(
        **axis_common, type="date", range=[x_start, x_end],
        dtick=86400000, tick0=x_start, tickformat="%m/%d", tickangle=-90,
        ticks="outside", ticklen=6, mirror=True, showline=True,
        tickfont=dict(family=FONT, size=23), ticklabelstandoff=1,
    ),
    yaxis=dict(
        **axis_common, range=[0, 6], dtick=1, tick0=0,
        ticks="outside", ticklen=7, showline=True,
        minor=dict(dtick=0.5, ticks="outside", ticklen=6, tickcolor="black", tickwidth=1.5),
        tickfont=dict(family=FONT, size=24), ticklabelstandoff=8,
        title=dict(text="Normalized wind speed [-]", font=dict(family=FONT, size=23), standoff=2),
    ),
    # companion axes that draw the inner half of the crossing tick marks
    xaxis2=dict(overlaying="x", matches="x", anchor="y", side="bottom",
                ticks="inside", ticklen=6, tickcolor="black", tickwidth=1.5,
                dtick=86400000, tick0=x_start, showticklabels=False,
                showline=False, showgrid=False, zeroline=False, automargin=False),
    yaxis2=dict(overlaying="y", matches="y", anchor="x", side="left",
                ticks="inside", ticklen=6, tickcolor="black", tickwidth=1.5,
                dtick=1, tick0=0, showticklabels=False,
                showline=False, showgrid=False, zeroline=False, automargin=False),
)

fig.write_html("out.html")
